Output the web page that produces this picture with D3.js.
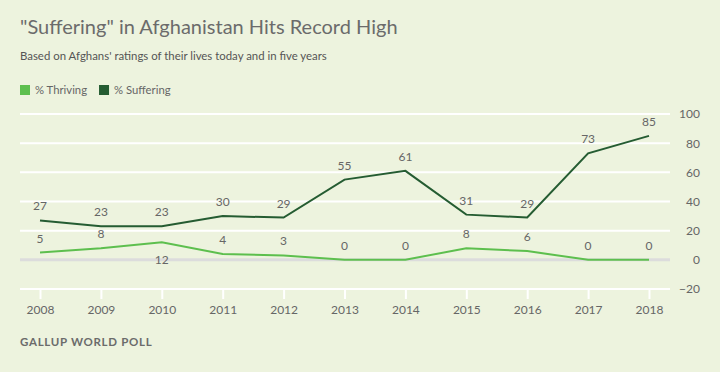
<!DOCTYPE html>
<html><head><meta charset="utf-8">
<script src="https://cdn.jsdelivr.net/npm/d3@7"></script>
<style>
html,body{margin:0;padding:0;background:#edf3de;}
svg{display:block;font-family:Lato,"Open Sans",sans-serif;}
</style></head><body>
<svg id="c" width="720" height="372"></svg>
<script>
const years = [2008,2009,2010,2011,2012,2013,2014,2015,2016,2017,2018];
const thriving = [5,8,12,4,3,0,0,8,6,0,0];
const suffering = [27,23,23,30,29,55,61,31,29,73,85];
const yTicks = [-20,0,20,40,60,80,100];
const seriesNames = ["% Thriving","% Suffering"];
const colors = ["#5dbf4e","#255c32"];
const FONT = "Lato, 'Open Sans', sans-serif";

const svg = d3.select("#c");
svg.append("rect").attr("width",720).attr("height",372).attr("fill","#edf3de");

svg.append("text").attr("x",20).attr("y",34).attr("fill","#6b6b6b")
  .attr("font-size",20).text('"Suffering" in Afghanistan Hits Record High');
svg.append("text").attr("x",20).attr("y",60).attr("fill","#555")
  .attr("font-size",11.4).text("Based on Afghans' ratings of their lives today and in five years");

const leg = svg.append("g");
let lx = 20;
seriesNames.forEach((n,i)=>{
  leg.append("rect").attr("x",lx).attr("y",85).attr("width",10).attr("height",10).attr("fill",colors[i]);
  const t = leg.append("text").attr("x",lx+15).attr("y",94).attr("fill","#666").attr("font-size",11.3).text(n);
  lx += 15 + t.node().getComputedTextLength() + 12;
});

const x = d3.scalePoint().domain(years).range([40,649]);
const y = d3.scaleLinear().domain([-20,100]).range([289,114]);

const grid = svg.append("g");
yTicks.forEach(v=>{
  grid.append("line").attr("x1",20).attr("x2",670).attr("y1",y(v)).attr("y2",y(v))
    .attr("stroke", v===0 ? "#dcdcdc" : "#ffffff").attr("stroke-width", v===0?3:2);
});

const yAxis = d3.axisRight(y).tickValues(yTicks).tickSize(0).tickPadding(0);
const ya = svg.append("g").attr("transform","translate(700,0)").call(yAxis);
ya.select(".domain").remove();
ya.selectAll("text").attr("text-anchor","end").attr("fill","#666").attr("font-size",12)
  .attr("font-family",FONT);

const xAxis = d3.axisBottom(x).tickSize(10).tickPadding(6).tickFormat(d3.format("d"));
const xa = svg.append("g").attr("transform","translate(0,289)").call(xAxis);
xa.select(".domain").remove();
xa.selectAll("line").attr("stroke","#fff").attr("stroke-width",2);
xa.selectAll("text").attr("fill","#666").attr("font-size",12).attr("font-family",FONT);

const line = d3.line().x((d,i)=>x(years[i])).y(d=>y(d));
[thriving,suffering].forEach((s,k)=>{
  svg.append("path").datum(s).attr("d",line).attr("fill","none")
    .attr("stroke",colors[k]).attr("stroke-width",2);
});

const lab = svg.append("g").attr("font-size",12).attr("fill","#666").attr("text-anchor","middle");
suffering.forEach((v,i)=>{
  lab.append("text").attr("x",x(years[i])).attr("y",y(v)-10).text(v);
});
thriving.forEach((v,i)=>{
  const below = i>0 && i<thriving.length-1 && v>thriving[i-1] && v>thriving[i+1] && v - thriving[i+1] > 5;
  lab.append("text").attr("x",x(years[i])).attr("y", below ? y(v)+22 : y(v)-10).text(v);
});

svg.append("text").attr("x",20).attr("y",346).attr("fill","#6b6b6b").attr("font-size",11.5)
  .attr("font-weight","bold").attr("letter-spacing",0.7).text("GALLUP WORLD POLL");
</script></body></html>
